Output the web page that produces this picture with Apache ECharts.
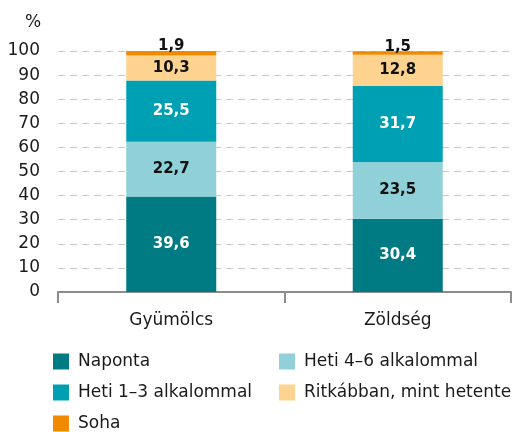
<!DOCTYPE html>
<html>
<head>
<meta charset="utf-8">
<script src="https://cdn.jsdelivr.net/npm/echarts@6/dist/echarts.min.js"></script>
<style>
  html, body { margin: 0; padding: 0; background: #fff; }
  #chart { width: 519px; height: 432px; }
</style>
</head>
<body>
<div id="chart"></div>
<script>
// Frequency of fruit and vegetable consumption, percent
const categories = ['Gyümölcs', 'Zöldség'];
const seriesNames = ['Naponta', 'Heti 4–6 alkalommal', 'Heti 1–3 alkalommal', 'Ritkábban, mint hetente', 'Soha'];
const naponta = [39.6, 30.4];
const heti46 = [22.7, 23.5];
const heti13 = [25.5, 31.7];
const ritkabban = [10.3, 12.8];
const soha = [1.9, 1.5];
const yTicks = [0, 10, 20, 30, 40, 50, 60, 70, 80, 90, 100];

const colors = ['#007b83', '#8fd0d9', '#00a0b4', '#fdd38f', '#f08a00'];
const labelColors = ['#ffffff', '#111111', '#ffffff', '#111111', '#111111'];
const values = [naponta, heti46, heti13, ritkabban, soha];
const FONT = '"DejaVu Sans", "Noto Sans", sans-serif';
const TEXT = '#1a1a1a';

const fmt = v => String(v).replace('.', ',');

const series = seriesNames.map((name, i) => ({
  name: name,
  type: 'bar',
  stack: 'total',
  barWidth: 90,
  data: values[i],
  itemStyle: { color: colors[i] },
  label: {
    show: true,
    position: i === 4 ? 'top' : 'inside',
    distance: i === 4 ? -3 : 5,
    color: labelColors[i],
    fontFamily: FONT,
    fontSize: 15,
    fontWeight: 'bold',
    formatter: p => fmt(p.value)
  }
}));

// Legend laid out as two columns, one single-entry legend per slot
const legendSlots = [
  { name: seriesNames[0], left: 53, top: 353 },
  { name: seriesNames[1], left: 279, top: 353 },
  { name: seriesNames[2], left: 53, top: 384 },
  { name: seriesNames[3], left: 279, top: 384 },
  { name: seriesNames[4], left: 53, top: 415 }
];
const legends = legendSlots.map(s => ({
  orient: 'horizontal',
  left: s.left,
  top: s.top,
  padding: 0,
  itemWidth: 16,
  itemHeight: 16,
  icon: 'rect',
  data: [s.name],
  textStyle: { color: TEXT, fontFamily: FONT, fontSize: 17, lineHeight: 16, padding: [0, 0, 0, 4] }
}));

const chart = echarts.init(document.getElementById('chart'), null, { renderer: 'canvas' });
chart.setOption({
  animation: false,
  backgroundColor: '#ffffff',
  grid: { left: 58, right: 8, top: 51, bottom: 140 },
  xAxis: {
    type: 'category',
    data: categories,
    boundaryGap: true,
    axisLine: { lineStyle: { color: '#8c8c8c', width: 2 } },
    axisTick: { show: true, length: 11, lineStyle: { color: '#8c8c8c', width: 2 } },
    axisLabel: { color: TEXT, fontFamily: FONT, fontSize: 17, margin: 20 }
  },
  yAxis: {
    type: 'value',
    min: yTicks[0],
    max: yTicks[yTicks.length - 1],
    interval: 10,
    axisLine: { show: false },
    axisTick: { show: false },
    axisLabel: { color: TEXT, fontFamily: FONT, fontSize: 17, margin: 18 },
    splitLine: { lineStyle: { color: '#c8c8c8', width: 1, type: [7, 5] } }
  },
  graphic: [{
    type: 'text',
    left: 25,
    top: 14,
    style: { text: '%', fill: TEXT, font: '17px ' + FONT }
  }],
  legend: legends,
  series: series
});
</script>
</body>
</html>
